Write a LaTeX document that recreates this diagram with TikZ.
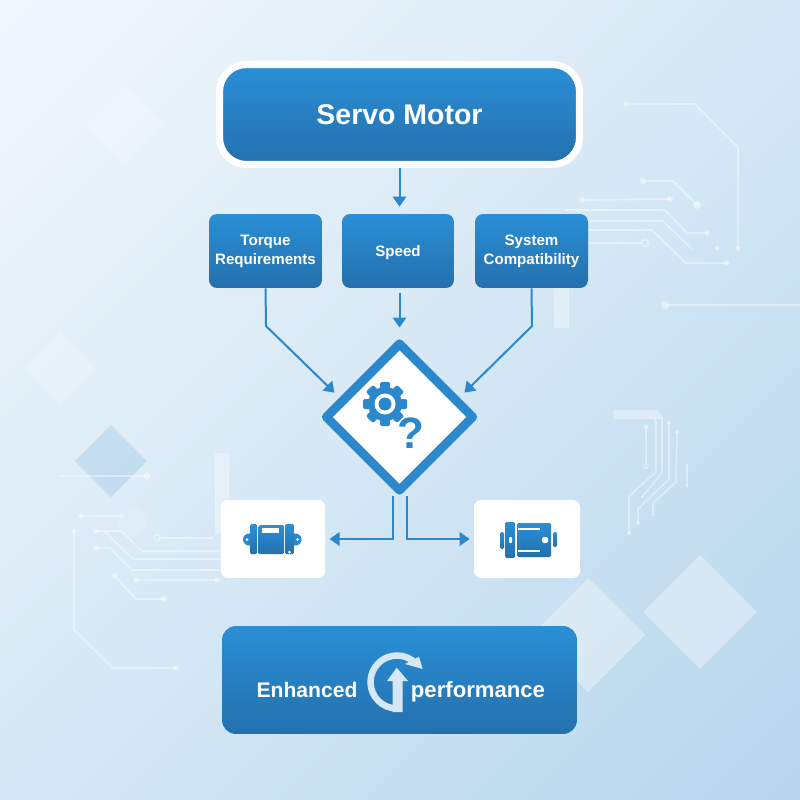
\documentclass[tikz,border=0pt]{standalone}
\usepackage{fontspec}
\setmainfont{Liberation Sans}
\usetikzlibrary{arrows.meta,shapes.geometric}
\definecolor{box top}{HTML}{2A8FD6}
\definecolor{box bottom}{HTML}{2470AD}
\definecolor{line blue}{HTML}{2B88CC}
\definecolor{icon pale}{HTML}{D6E8F4}
\definecolor{page dark}{HTML}{A9CEE9}
\definecolor{page mid}{HTML}{D6E8F5}
\definecolor{page light}{HTML}{FDFEFF}
\pgfdeclareverticalshading{page shade}{100bp}{color(0bp)=(page dark); color(50bp)=(page mid); color(100bp)=(page light)}
\begin{document}
\begin{tikzpicture}[x=0.02cm,y=-0.02cm]
    % Node styles
    \tikzstyle{none}=[inner sep=0mm]
    \tikzstyle{title box}=[top color=box top, bottom color=box bottom, draw=white, line width=0.14cm, shape=rectangle, rounded corners=0.54cm, minimum width=7.2cm, minimum height=2cm, text=white, font=\fontsize{16.2}{19}\selectfont\bfseries]
    \tikzstyle{blue box}=[top color=box top, bottom color=box bottom, shape=rectangle, rounded corners=0.16cm, minimum width=2.26cm, minimum height=1.48cm, inner sep=0mm, align=center, text=white, font=\fontsize{8.6}{10.9}\selectfont\bfseries]
    \tikzstyle{result box}=[top color=box top, bottom color=box bottom, shape=rectangle, rounded corners=0.28cm, minimum width=7.1cm, minimum height=2.16cm]
    \tikzstyle{white box}=[fill=white, shape=rectangle, rounded corners=0.14cm, minimum height=1.56cm]
    \tikzstyle{choice}=[fill=white, draw=line blue, line width=0.18cm, line join=round, shape=diamond, aspect=1, inner sep=0mm, minimum width=3cm, minimum height=3cm]
    \tikzstyle{result text}=[anchor=base, text=white, font=\fontsize{12}{14}\selectfont\bfseries]
    \tikzstyle{mark text}=[text=line blue, font=\fontsize{25}{28}\selectfont\bfseries]
    % Edge styles
    \tikzstyle{arrow}=[draw=line blue, line width=0.04cm, -{Triangle[width=0.27cm,length=0.2cm]}]
    % Shape styles
    \tikzstyle{motor part}=[top color=box top, bottom color=box bottom, rounded corners=0.03cm]
    \tikzstyle{trace}=[draw=white, draw opacity=0.4, line width=0.035cm]
    \tikzstyle{dot}=[fill=white, fill opacity=0.45]
    \tikzstyle{pale}=[fill=white, fill opacity=0.35]

    % Background
    \useasboundingbox (0,0) rectangle (800,800);
    \shade [shading=page shade, shading angle=45] (0,0) rectangle (800,800);
    \fill [fill=white, fill opacity=0.2] (125,85) -- (165,125) -- (125,165) -- (85,125) -- cycle;
    \fill [fill=white, fill opacity=0.2] (60,333) -- (95,368) -- (60,403) -- (25,368) -- cycle;
    \fill [fill=line blue, fill opacity=0.14] (111,425) -- (147,461) -- (111,497) -- (75,461) -- cycle;
    \fill [style=pale] (588,578) -- (645,635) -- (588,692) -- (531,635) -- cycle;
    \fill [style=pale] (700,555) -- (757,612) -- (700,669) -- (643,612) -- cycle;
    \fill [style=pale] (554,288) rectangle (569,328);
    \fill [style=pale] (215,453) rectangle (229,533);
    \fill [style=pale] (613,410) -- (656,410) -- (662,419) -- (613,419) -- cycle;
    \fill [fill=white, fill opacity=0.1] (132,523) circle (15);

    % Traces, upper right
    \draw [style=trace] (626,104) -- (695,104) -- (738,147) -- (738,249);
    \draw [style=trace] (643,181) -- (673,181) -- (697,205);
    \draw [style=trace] (582,200) -- (670,199);
    \draw [style=trace] (565,210) -- (665,210) -- (687,233) -- (707,233);
    \draw [style=trace] (588,221) -- (663,221) -- (692,249);
    \draw [style=trace] (588,230) -- (652,230) -- (686,263) -- (727,263);
    \draw [style=trace] (588,243) -- (642,243);
    \draw [style=trace] (645,243) circle (3.5);
    \draw [style=trace] (665,305) -- (800,305);
    \foreach \x/\y/\r in {626/104/2.5,738/249/2.5,643/181/3,697/205/4,582/200/3,670/199/3,707/233/2.5,727/263/2.5,717/248/2.5,665/305/4.5}
        \fill [style=dot] (\x,\y) circle (\r);
    % Traces, left
    \draw [style=trace] (60,476) -- (147,476);
    \draw [style=trace] (81,516) -- (122,516);
    \draw [style=trace] (96,531) -- (122,531) -- (142,551) -- (220,551);
    \draw [style=trace] (105,532) -- (133,559) -- (220,559);
    \draw [style=trace] (96,548) -- (110,548) -- (132,570) -- (220,570);
    \draw [style=trace] (136,580) -- (217,580);
    \draw [style=trace] (115,576) -- (136,599) -- (164,599);
    \draw [style=trace] (74,531) -- (74,630) -- (113,668) -- (176,668);
    \draw [style=trace] (160,538) -- (212,538) -- (217,533);
    \draw [style=trace] (157,538) circle (3);
    \foreach \x/\y/\r in {147/476/4,81/516/2.5,122/516/2,96/531/2.5,96/548/2.5,136/580/2.5,217/580/2.5,115/576/3,164/599/3,74/531/2.5,176/668/2.5}
        \fill [style=dot] (\x,\y) circle (\r);
    % Traces, lower right
    \draw [style=trace] (655,418) -- (656,422) -- (656,472) -- (629,496) -- (629,533);
    \draw [style=trace] (657,411) -- (662,418) -- (662,473) -- (642,497);
    \draw [style=trace] (669,423) -- (669,479) -- (638,509) -- (638,523);
    \draw [style=trace] (677,432) -- (676,482) -- (653,503) -- (653,515);
    \draw [style=trace] (646,427) -- (646,464);
    \draw [style=trace] (646,466) circle (2);
    \draw [style=trace] (687,465) -- (687,486);
    \foreach \x/\y/\r in {629/533/2,642/497/1.5,669/423/2,638/523/2,677/432/2,653/515/1.5,646/427/2.5,687/465/1.5,687/486/1.5}
        \fill [style=dot] (\x,\y) circle (\r);

    % Boxes
    \node [style=title box] (0) at (399.5,114.5) {Servo Motor};
    \node [style=blue box] (1) at (265.5,251) {Torque\\Requirements};
    \node [style=blue box, minimum width=2.24cm, text depth=0pt] (2) at (398,251) {Speed};
    \node [style=blue box] (3) at (531.5,251) {System\\Compatibility};
    \node [style=choice] (4) at (399.5,417) {};
    \node [style=white box, minimum width=2.09cm] (5) at (273,539) {};
    \node [style=white box, minimum width=2.12cm] (6) at (527,539) {};
    \node [style=result box] (7) at (399.5,680) {};
    \node [style=result text] (8) at (307,697) {Enhanced};
    \node [style=result text, font=\fontsize{12.6}{14}\selectfont\bfseries] (9) at (478,697) {performance};
    \node [style=mark text] (10) at (411,433) {?};
    \node [style=none] (11) at (266,326) {};
    \node [style=none] (12) at (532,326) {};

    % Connectors
    \draw [style=arrow, shorten >=0.14cm] (0.south) to (2.north -| 0.south);
    \draw [style=arrow, shorten <=0.1cm, shorten >=0.2cm] (2.south -| 4.north) to (4.north);
    \draw [style=arrow, shorten >=0.14cm] (1.south) -- (11.center) -- (4.162);
    \draw [style=arrow, shorten >=0.14cm] (3.south) -- (12.center) -- (4.18);
    \draw [style=arrow, shorten >=0.08cm] ([xshift=-0.14cm]4.south) |- (5.east);
    \draw [style=arrow, shorten >=0.08cm] ([xshift=0.14cm]4.south) |- (6.west);

    % Gear
    \foreach \a in {0,45,...,315}
        \fill [fill=line blue, rounded corners=0.03cm, rotate around={\a:(385,404)}] (380,382) rectangle (390,396);
    \fill [fill=line blue] (385,404) circle (17);
    \fill [fill=white] (385,404) circle (10.5);
    \fill [fill=line blue] (385,404) circle (6.5);

    % Left motor
    \fill [fill=line blue] (249,539.5) circle (6);
    \fill [fill=white] (247,539.5) circle (1.5);
    \fill [fill=line blue] (295.5,539.5) circle (6);
    \fill [fill=white] (297.5,539.5) circle (1.5);
    \shade [style=motor part] (250,524) rectangle (257,554);
    \shade [style=motor part] (258.5,525) rectangle (284,554);
    \shade [style=motor part] (285,524) rectangle (294,554);
    \fill [fill=white] (262,528) rectangle (279,533);
    \fill [fill=white] (289.5,552) circle (1.5);

    % Right motor
    \shade [style=motor part] (500,532) rectangle (504,549);
    \shade [style=motor part] (505,522) rectangle (515,558);
    \shade [style=motor part] (517,523) rectangle (551,557);
    \shade [style=motor part] (553,532) rectangle (557,547);
    \fill [fill=white] (518,528) rectangle (540,530);
    \fill [fill=white] (518,550) rectangle (540,552);
    \fill [fill=white, rounded corners=0.02cm] (509,537) rectangle (512,543);
    \fill [fill=white, rounded corners=0.03cm] (542,537) rectangle (548,543);

    % Performance icon
    \draw [draw=icon pale, line width=0.13cm] (397,708.5) arc [start angle=90, end angle=318, radius=26.5];
    \fill [fill=icon pale] (419,656.7) -- (422.7,669) -- (405,664) -- cycle;
    \fill [fill=icon pale] (396.7,667.7) -- (408,681) -- (402.6,681) -- (402.6,712) -- (392.7,712) -- (392.7,681) -- (387,681) -- cycle;
\end{tikzpicture}
\end{document}
